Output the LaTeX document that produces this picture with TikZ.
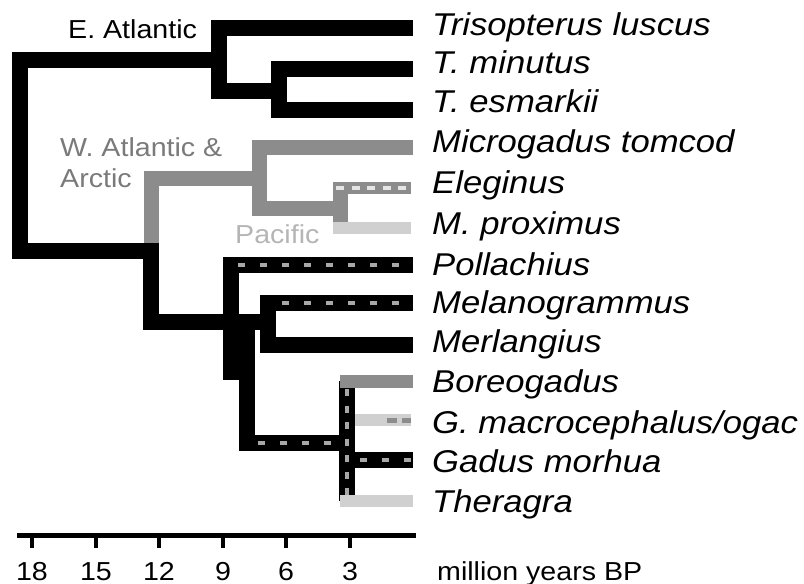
\documentclass[tikz,border=0pt]{standalone}
\usepackage{fontspec}
\setmainfont{Liberation Sans}[FakeStretch=1.1]
\usetikzlibrary{calc}
\definecolor{grayclade}{HTML}{8C8C8C}
\definecolor{lightclade}{HTML}{D0D0D0}
\definecolor{pactext}{HTML}{B5B5B5}
\definecolor{wtext}{HTML}{7A7A7A}
\definecolor{dashgray}{HTML}{A8A8A8}
\begin{document}
\begin{tikzpicture}[x=1pt,y=-1pt,
  blk/.style={line width=16pt,black},
  gry/.style={line width=15pt,grayclade},
  lgt/.style={line width=12.5pt,lightclade},
  dotsH/.style={line width=4pt,dashgray,dash pattern=on 7pt off 15pt},
  sp/.style={font=\fontsize{31.5}{36}\selectfont\itshape,inner sep=0pt,anchor=base west},
  reg/.style={font=\fontsize{26}{31}\selectfont,inner sep=0pt},
  tick/.style={line width=4pt,black}]
\useasboundingbox (0,0) rectangle (804,584);
% tips
\coordinate (tTri) at (413,28);
\coordinate (tMin) at (413,69);
\coordinate (tEsm) at (413,110);
\coordinate (tMic) at (413,147);
\coordinate (tEle) at (411,188);
\coordinate (tPro) at (411,228);
\coordinate (tPol) at (413,265);
\coordinate (tMel) at (413,303);
\coordinate (tMer) at (413,345);
\coordinate (tBor) at (413,381);
\coordinate (tMac) at (411,420);
\coordinate (tMor) at (413,460);
\coordinate (tThe) at (413,501);
% internal nodes
\coordinate (nE) at (219,60);
\coordinate (nT) at (279,91);
\coordinate (root) at (20,155);
\coordinate (nW) at (151,251);
\coordinate (nWtop) at (151,243);
\coordinate (nMic) at (259,178);
\coordinate (nEle) at (340,208);
\coordinate (nMel) at (268,322);
\coordinate (nPol) at (231,380);
\coordinate (nGad0) at (247,317);
\coordinate (nG) at (347,443);
% gray clade
\draw[gry] (nWtop) |- (nMic);
\draw[gry] (tMic) -| (nMic) |- (nEle);
\draw[gry] (340,182) -- (340,222);
\draw[gry,line width=12pt] (333,188) -- (tEle);
\draw[line width=3.5pt,white!80!gray,dash pattern=on 8pt off 7.5pt] (336,188) -- (tEle);
\draw[lgt] (333,228) -- (tPro);
% black clades
\draw[blk] (tTri) -| (nE) |- (nT);
\draw[blk] (tMin) -| (nT) |- (tEsm);
\draw[blk] (nE) -| (root) |- (nW) |- (nMel);
\draw[blk] (tMel) -| (nMel) |- (tMer);
\draw[blk] (tPol) -| (nPol);
\draw[blk] (nGad0) |- (nG);
\draw[blk] (nG |- tBor) -- (nG |- tThe);
\draw[blk] (nG |- tMor) -- (tMor);
% tip bars of Gadus clade
\draw[gry,line width=13pt] ($(nG |- tBor)+(-7,0)$) -- (tBor);
\draw[lgt] ($(nG |- tMac)+(8,0)$) -- (tMac);
\draw[line width=5pt,grayclade] (387,420) -- (397,420) (402,420) -- (411,420);
\draw[lgt] ($(nG |- tThe)+(-7,0)$) -- (tThe);
% dash marks
\draw[dotsH] (238,265) -- (tPol);
\draw[dotsH] (282,303) -- (tMel);
\draw[dotsH] (258,443) -- (340,443);
\draw[dotsH] (360,460) -- (tMor);
\draw[line width=4pt,dashgray,dash pattern=on 7pt off 9.5pt] (347,389) -- (347,495);
% species labels
\node[sp] (lTri) at (432,35) {Trisopterus luscus};
\node[sp] (lMin) at (432,73) {T. minutus};
\node[sp] (lEsm) at (432,112) {T. esmarkii};
\node[sp] (lMic) at (432,152) {Microgadus tomcod};
\node[sp] (lEle) at (432,193) {Eleginus};
\node[sp] (lPro) at (432,234) {M. proximus};
\node[sp] (lPol) at (432,275) {Pollachius};
\node[sp] (lMel) at (432,313) {Melanogrammus};
\node[sp] (lMer) at (432,352) {Merlangius};
\node[sp] (lBor) at (432,392) {Boreogadus};
\node[sp] (lMac) at (432,433) {G. macrocephalus/ogac};
\node[sp] (lMor) at (432,472) {Gadus morhua};
\node[sp] (lThe) at (432,512) {Theragra};
% region labels
\node[reg,anchor=base west] (eatl) at (68,38) {E. Atlantic};
\node[reg,anchor=base west,text=wtext] (watl) at (60,156) {W. Atlantic \&};
\node[reg,anchor=base west,text=wtext] (arct) at (60,187) {Arctic};
\node[reg,anchor=base west,text=pactext] (pac) at (235,243) {Pacific};
% time scale
\coordinate (sL) at (17,535);
\coordinate (sR) at (416,535);
\draw[line width=5pt] (sL) -- (sR);
\foreach \x/\t in {32/18,96/15,159/12,223/9,286/6,350/3}{
  \coordinate (k\t) at (\x,535);
  \draw[tick] (k\t) -- ++(0,13);
  \node[reg,anchor=base] (n\t) at (\x,580) {\t};
}
\node[reg,anchor=base west] (unit) at (437,580) {million years BP};
\end{tikzpicture}
\end{document}
